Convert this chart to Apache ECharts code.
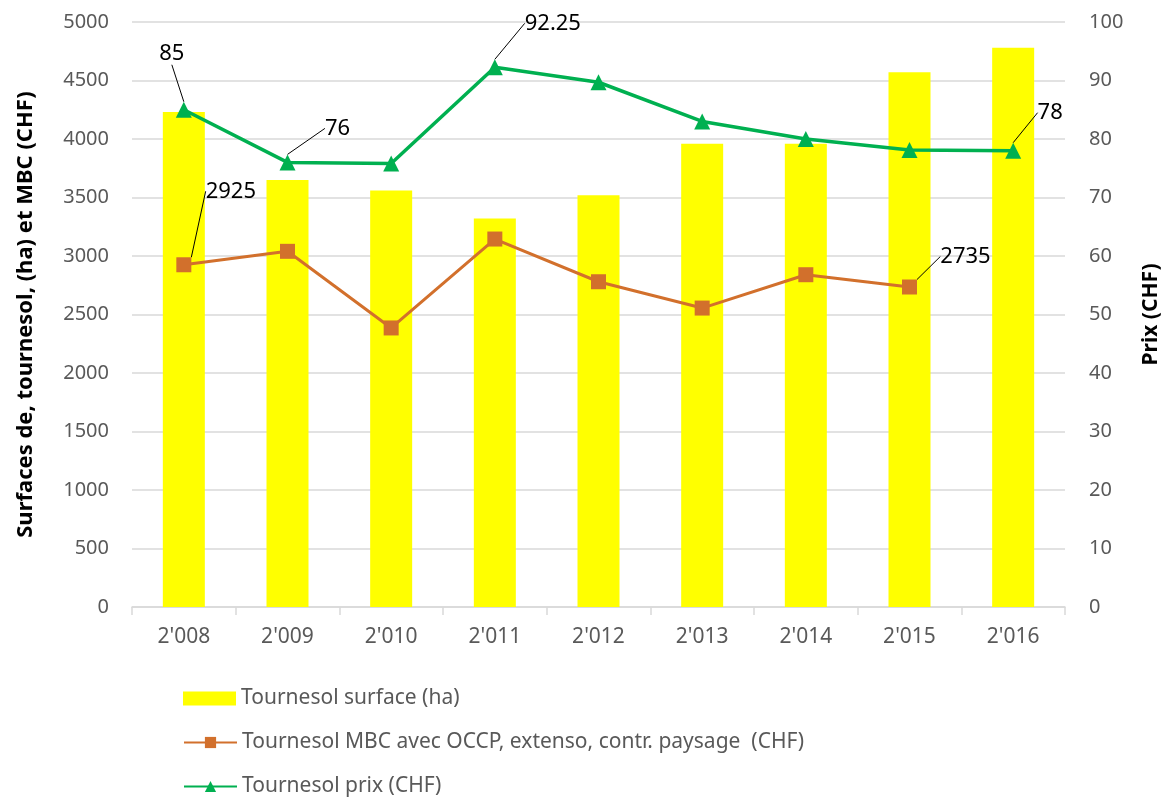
<!DOCTYPE html>
<html>
<head>
<meta charset="utf-8">
<script src="https://cdn.jsdelivr.net/npm/echarts@6/dist/echarts.min.js"></script>
<style>html,body{margin:0;padding:0;background:#fff}#c{width:1163px;height:797px}</style>
</head>
<body>
<div id="c"></div>
<script>
const categories = ["2'008","2'009","2'010","2'011","2'012","2'013","2'014","2'015","2'016"];
const surface = [4230, 3650, 3560, 3320, 3520, 3960, 3960, 4570, 4780];
const mbc = [2925, 3040, 2385, 3145, 2780, 2555, 2840, 2735, null];
const prix = [85, 76, 75.8, 92.25, 89.7, 83.0, 80.0, 78.1, 78];
const mbcLabeled = [0, 7];
const prixLabeled = [0, 1, 3, 8];
const seriesNames = ["Tournesol surface (ha)", "Tournesol MBC avec OCCP, extenso, contr. paysage  (CHF)", "Tournesol prix (CHF)"];
const leftTicks = {min: 0, max: 5000, interval: 500};
const rightTicks = {min: 0, max: 100, interval: 10};

// label offsets (layout only)
const labelOffsets = {
  '1-0': [47, -50], '1-7': [56, -7],
  '2-0': [-12, -32], '2-1': [50, -10], '2-3': [58, -20], '2-8': [37, -14]
};
const legendTops = [688, 732, 776];

const FONT = '"Noto Sans", "Open Sans", sans-serif';
const GRAY = '#595959';
const chart = echarts.init(document.getElementById('c'));

function withLabels(values, labeled) {
  return values.map((v, i) => labeled.indexOf(i) >= 0
    ? {value: v, label: {show: true}, labelLine: {show: true}}
    : v);
}
function layoutFn(p) {
  const o = labelOffsets[p.seriesIndex + '-' + p.dataIndex];
  return o ? {dx: o[0], dy: o[1]} : {};
}
const legends = seriesNames.map((n, i) => ({
  orient: 'horizontal', left: 183, top: legendTops[i], padding: 0,
  itemWidth: 53, itemHeight: 14, itemGap: 0,
  textStyle: {color: GRAY, fontSize: 21, fontFamily: FONT},
  data: [i === 0 ? {name: n, icon: 'rect'} : n]
}));

chart.setOption({
  animation: false,
  textStyle: {fontFamily: FONT},
  grid: {left: 132, right: 98, top: 22, bottom: 190, containLabel: false, outerBoundsMode: 'none'},
  legend: legends,
  xAxis: {
    type: 'category', data: categories,
    axisLine: {lineStyle: {color: '#d9d9d9', width: 1.5}},
    axisTick: {show: true, length: 8, lineStyle: {color: '#d9d9d9', width: 1.5}},
    axisLabel: {color: GRAY, fontSize: 21, margin: 20}
  },
  yAxis: [
    {
      type: 'value', min: leftTicks.min, max: leftTicks.max, interval: leftTicks.interval,
      name: 'Surfaces de, tournesol, (ha) et MBC (CHF)', nameLocation: 'middle', nameRotate: 90, nameGap: 95,
      nameTextStyle: {color: '#000', fontWeight: 'bold', fontSize: 22},
      axisLine: {show: false}, axisTick: {show: false},
      axisLabel: {color: GRAY, fontSize: 20, margin: 23, formatter: v => String(v)},
      splitLine: {lineStyle: {color: '#d9d9d9', width: 1.5}}
    },
    {
      type: 'value', min: rightTicks.min, max: rightTicks.max, interval: rightTicks.interval,
      name: 'Prix (CHF)', nameLocation: 'middle', nameRotate: 90, nameGap: 76,
      nameTextStyle: {color: '#000', fontWeight: 'bold', fontSize: 21},
      axisLine: {show: false}, axisTick: {show: false},
      axisLabel: {color: GRAY, fontSize: 20, margin: 24},
      splitLine: {show: false}
    }
  ],
  series: [
    {
      name: seriesNames[0], type: 'bar', data: surface, barWidth: 42,
      itemStyle: {color: '#ffff00'}
    },
    {
      name: seriesNames[1], type: 'line', data: withLabels(mbc, mbcLabeled),
      yAxisIndex: 0, symbol: 'rect', symbolSize: 15,
      lineStyle: {color: '#d2702c', width: 3}, itemStyle: {color: '#d2702c'},
      label: {show: false, position: 'top', distance: 5, color: '#000', fontSize: 22},
      labelLine: {show: true, lineStyle: {color: '#000', width: 1}},
      labelLayout: layoutFn
    },
    {
      name: seriesNames[2], type: 'line', data: withLabels(prix, prixLabeled),
      yAxisIndex: 1, symbol: 'triangle', symbolSize: 16,
      lineStyle: {color: '#00b050', width: 3.5}, itemStyle: {color: '#00b050'},
      label: {show: false, position: 'top', distance: 5, color: '#000', fontSize: 22},
      labelLine: {show: true, lineStyle: {color: '#000', width: 1}},
      labelLayout: layoutFn
    }
  ]
});
</script>
</body>
</html>
